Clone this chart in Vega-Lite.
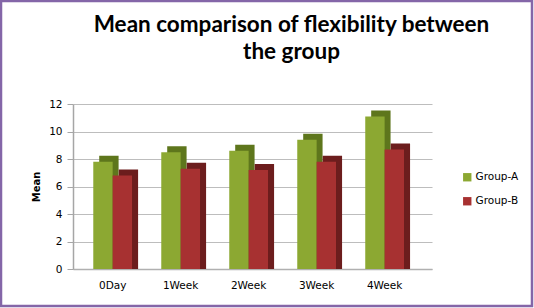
{
  "$schema": "https://vega.github.io/schema/vega-lite/v6.json",
  "autosize": "none",
  "padding": {"left": 1, "top": 1, "right": 2, "bottom": 2},
  "width": 531,
  "height": 305,
  "background": "white",
  "config": {
    "view": {"stroke": "#8466a8", "strokeWidth": 2.5},
    "font": "DejaVu Sans"
  },
  "title": {
    "text": ["Mean comparison of flexibility between", "the group"],
    "font": "Lato",
    "fontSize": 22.5,
    "fontWeight": "bold",
    "color": "#000000",
    "anchor": "middle",
    "frame": "group",
    "dx": 25,
    "offset": -62,
    "lineHeight": 27
  },
  "data": {
    "values": [
      {"time": "0Day", "group": "Group-A", "mean": 7.8},
      {"time": "0Day", "group": "Group-B", "mean": 6.8},
      {"time": "1Week", "group": "Group-A", "mean": 8.5},
      {"time": "1Week", "group": "Group-B", "mean": 7.3},
      {"time": "2Week", "group": "Group-A", "mean": 8.6},
      {"time": "2Week", "group": "Group-B", "mean": 7.2},
      {"time": "3Week", "group": "Group-A", "mean": 9.4},
      {"time": "3Week", "group": "Group-B", "mean": 7.8},
      {"time": "4Week", "group": "Group-A", "mean": 11.1},
      {"time": "4Week", "group": "Group-B", "mean": 8.7}
    ]
  },
  "encoding": {
    "x": {
      "field": "time",
      "type": "nominal",
      "sort": ["0Day", "1Week", "2Week", "3Week", "4Week"],
      "scale": {"range": [72, 431], "paddingInner": 0.43, "paddingOuter": 0.355, "align": 0.42},
      "axis": {
        "orient": "bottom",
        "offset": -37,
        "title": null,
        "labelAngle": 0,
        "labelFontSize": 10.5,
        "labelColor": "#000000",
        "labelPadding": 11,
        "ticks": false,
        "domainColor": "#b0b0b0",
        "domainWidth": 1.5
      }
    },
    "y": {
      "field": "mean",
      "type": "quantitative",
      "scale": {"domain": [0, 12], "range": [268, 103], "nice": false, "zero": true},
      "axis": {
        "orient": "left",
        "offset": -72,
        "values": [0, 2, 4, 6, 8, 10, 12],
        "title": "Mean",
        "titleFontSize": 10,
        "titleFontWeight": "bold",
        "titleColor": "#000000",
        "titlePadding": 7,
        "labelFontSize": 10.5,
        "labelColor": "#000000",
        "labelPadding": 5,
        "tickColor": "#a6a6a6",
        "tickSize": 6,
        "domainColor": "#a6a6a6",
        "domainWidth": 1.5,
        "grid": true,
        "gridColor": "#bdbdbd",
        "gridWidth": 1.2
      }
    },
    "y2": {"datum": 0}
  },
  "layer": [
    {
      "transform": [{"filter": "datum.group === 'Group-A'"}],
      "mark": {"type": "bar", "width": {"band": 0.5}, "xOffset": -3.75, "yOffset": -6, "color": "#5e761c"}
    },
    {
      "transform": [{"filter": "datum.group === 'Group-B'"}],
      "mark": {"type": "bar", "width": {"band": 0.5}, "xOffset": 15.75, "yOffset": -6, "color": "#6c1d1d"}
    },
    {
      "mark": {"type": "bar"},
      "encoding": {
        "xOffset": {
          "field": "group",
          "type": "nominal",
          "scale": {"paddingInner": 0, "paddingOuter": 0}
        },
        "color": {
          "field": "group",
          "type": "nominal",
          "scale": {"domain": ["Group-A", "Group-B"], "range": ["#8ca832", "#a73131"]},
          "legend": {
            "title": null,
            "orient": "none",
            "legendX": 461,
            "legendY": 171,
            "symbolType": "square",
            "symbolSize": 70,
            "symbolStrokeWidth": 0,
            "labelFontSize": 10.5,
            "labelColor": "#000000",
            "rowPadding": 13,
            "labelOffset": 3
          }
        }
      }
    }
  ]
}
